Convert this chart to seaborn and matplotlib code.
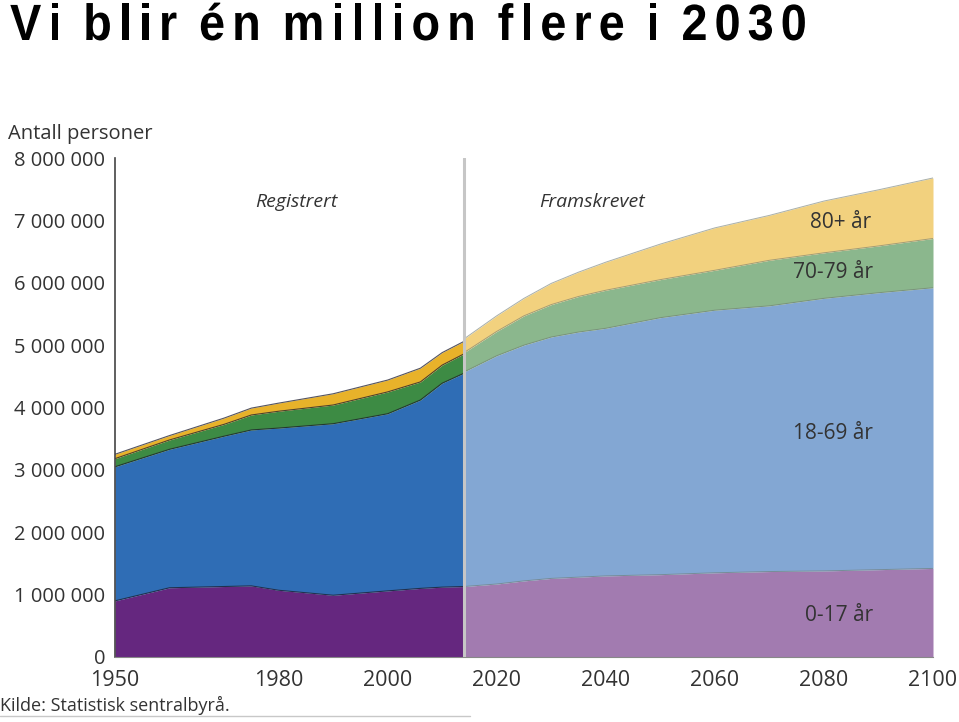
import numpy as np
import pandas as pd
import matplotlib.pyplot as plt
import matplotlib.transforms as mtransforms
import seaborn as sns
from matplotlib.lines import Line2D
from matplotlib.patches import PathPatch
from matplotlib.textpath import TextPath
from matplotlib.font_manager import FontProperties, findfont, get_font

# Registered population (millions) by age group
reg_years = [1950, 1960, 1970, 1975, 1980, 1990, 2000, 2006, 2010, 2014]
reg_0_17 = [0.90, 1.11, 1.13, 1.14, 1.07, 0.99, 1.06, 1.10, 1.12, 1.13]
reg_18_69 = [2.15, 2.22, 2.41, 2.50, 2.60, 2.75, 2.84, 3.02, 3.27, 3.42]
reg_70_79 = [0.13, 0.15, 0.19, 0.24, 0.27, 0.30, 0.35, 0.29, 0.29, 0.31]
reg_80 = [0.07, 0.07, 0.10, 0.11, 0.13, 0.18, 0.19, 0.22, 0.20, 0.20]

# Projected population (millions) by age group
proj_years = [2014, 2020, 2025, 2030, 2035, 2040, 2050, 2060, 2070, 2080, 2090, 2100]
proj_0_17 = [1.13, 1.17, 1.22, 1.26, 1.28, 1.30, 1.32, 1.35, 1.37, 1.38, 1.40, 1.42]
proj_18_69 = [3.44, 3.66, 3.78, 3.87, 3.93, 3.97, 4.12, 4.21, 4.26, 4.37, 4.44, 4.50]
proj_70_79 = [0.31, 0.39, 0.47, 0.52, 0.57, 0.61, 0.61, 0.64, 0.73, 0.73, 0.75, 0.79]
proj_80 = [0.22, 0.25, 0.28, 0.34, 0.39, 0.45, 0.57, 0.68, 0.72, 0.83, 0.90, 0.97]

groups = ['0-17 år', '18-69 år', '70-79 år', '80+ år']
reg_colors = ['#65277F', '#2F6DB5', '#3D8B44', '#E8B22A']
proj_colors = ['#A27BB0', '#83A7D3', '#8BB78D', '#F2D17E']

x_labels = {1950: '1950', 1980: '1980', 2000: '2000', 2020: '2020',
            2040: '2040', 2060: '2060', 2080: '2080', 2100: '2100'}

title = 'Vi blir én million flere i 2030'

sns.set_style('white')
plt.rcParams['font.family'] = ['Open Sans', 'DejaVu Sans']
text_col = '#333333'

fig = plt.figure(figsize=(9.59, 7.22), dpi=100)
ax = fig.add_axes([115 / 959, 65 / 722, 818 / 959, 499 / 722])


def long_edges(years, series, period):
    vals = np.cumsum(np.array(series) * 1e6, axis=0)
    rows = []
    for g, top in zip(groups, vals):
        for y, v in zip(years, top):
            rows.append({'year': y, 'top': v, 'group': g, 'period': period})
    return pd.DataFrame(rows)


reg = [reg_0_17, reg_18_69, reg_70_79, reg_80]
proj = [proj_0_17, proj_18_69, proj_70_79, proj_80]

ax.stackplot(reg_years, *[np.array(s) * 1e6 for s in reg], colors=reg_colors, linewidth=0)
ax.stackplot(proj_years, *[np.array(s) * 1e6 for s in proj], colors=proj_colors, linewidth=0)

# thin boundary lines between the age groups
sns.lineplot(data=long_edges(reg_years, reg, 'reg'), x='year', y='top', units='group',
             estimator=None, color='#1c1c2c', lw=0.8, alpha=0.75, ax=ax)
sns.lineplot(data=long_edges(proj_years, proj, 'proj'), x='year', y='top', units='group',
             estimator=None, color='#6f7a70', lw=0.7, alpha=0.6, ax=ax)

ax.axvline(2014, color='#c6c6c6', lw=2.2, zorder=5)

ax.set_xlim(1950, 2100)
ax.set_ylim(0, 8e6)
ax.set_xlabel('')
ax.set_ylabel('')
ax.set_axisbelow(True)

yt = np.arange(0, 8e6 + 1, 1e6)
ax.set_yticks(yt)
ax.set_yticklabels(['0' if v == 0 else f'{int(v):,}'.replace(',', ' ') for v in yt])
ax.tick_params(axis='y', direction='in', length=14.5, width=1.2, color='#555555',
               pad=7, labelsize=14.5, labelcolor=text_col)

xt = list(range(1950, 2101, 10))
ax.set_xticks(xt)
ax.set_xticklabels([x_labels.get(y, '') for y in xt])
ax.tick_params(axis='x', direction='out', length=4, width=1, color='#555555',
               pad=5, labelsize=15.5, labelcolor=text_col)

for s in ['top', 'right']:
    ax.spines[s].set_visible(False)
ax.spines['left'].set_color('#444444')
ax.spines['left'].set_linewidth(1.2)
ax.spines['bottom'].set_color('#888888')
ax.spines['bottom'].set_linewidth(0.8)

# period labels
ax.text(1983.2, 7.29e6, 'Registrert', style='italic', fontsize=14, color=text_col,
        ha='center', va='center')
ax.text(2037.4, 7.29e6, 'Framskrevet', style='italic', fontsize=14, color=text_col,
        ha='center', va='center')

# group labels
label_pos = {'80+ år': (2083, 6.97e6), '70-79 år': (2081.7, 6.17e6),
             '18-69 år': (2081.7, 3.59e6), '0-17 år': (2082.8, 0.67e6)}
for g, (lx, ly) in label_pos.items():
    ax.text(lx, ly, g, fontsize=15, color=text_col, ha='center', va='center', zorder=6)

fig.text(8 / 959, 1 - 139 / 722, 'Antall personer', fontsize=14.5, color=text_col,
         va='baseline', ha='left')

# title: bold letters, slightly squeezed, with wide tracking
em = 51
sx = 0.92
space_factor = 0.6
fp = FontProperties(family='Liberation Sans', weight='bold', size=em)
ft = get_font(findfont(fp))
ft.set_size(em, 72)


def glyph_adv(ch):
    return ft.load_char(ord(ch)).linearHoriAdvance / 65536 * sx


advs = [glyph_adv(c) * (space_factor if c == ' ' else 1) for c in title]
x0, base_y, x_end = 10, 722 - 40, 805
natural = sum(advs[:-1]) + glyph_adv(title[-1]) * 0.93
sp = (x_end - x0 - natural) / (len(title) - 1)
pen = x0
for ch, a in zip(title, advs):
    if ch != ' ':
        path = TextPath((0, 0), ch, size=em, prop=fp)
        tr = mtransforms.Affine2D().scale(sx, 1).translate(pen, base_y)
        fig.add_artist(PathPatch(path, transform=tr, facecolor='black', lw=0))
    pen += a + sp

fig.text(0, 1 - 711 / 722, 'Kilde: Statistisk sentralbyrå.', fontsize=13,
         color=text_col, va='baseline', ha='left')
fig.add_artist(Line2D([0, 470 / 959], [1 - 716 / 722, 1 - 716 / 722], color='#c8c8c8', lw=1))

fig.savefig('out.png', dpi=100)
